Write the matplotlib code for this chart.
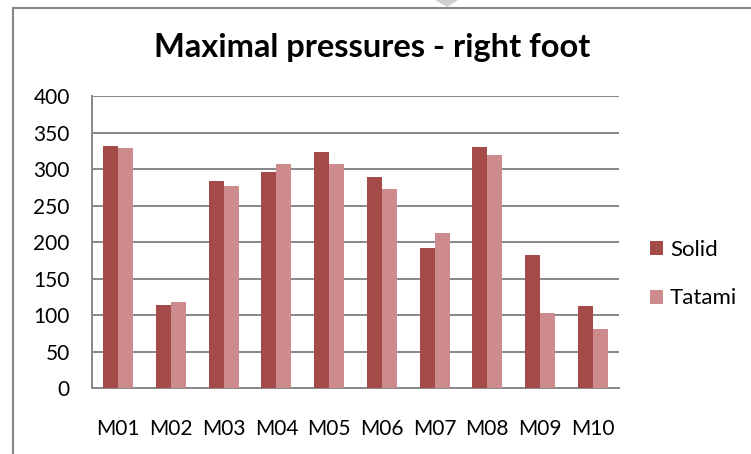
import matplotlib
matplotlib.use("Agg")
import matplotlib.pyplot as plt
from matplotlib.lines import Line2D
from matplotlib.patches import Polygon
import numpy as np

categories = ["M01", "M02", "M03", "M04", "M05", "M06", "M07", "M08", "M09", "M10"]
solid = [332, 114, 284, 296, 323, 289, 192, 330, 182, 113]
tatami = [329, 118, 277, 307, 307, 273, 213, 319, 103, 81]
series_names = ["Solid", "Tatami"]
y_ticks = [0, 50, 100, 150, 200, 250, 300, 350, 400]
title = "Maximal pressures - right foot"

W, H = 751, 454
plt.rcParams["font.family"] = ["Lato", "DejaVu Sans"]

fig = plt.figure(figsize=(W / 100, H / 100), dpi=100)
fig.patch.set_facecolor("white")

def fx(px):
    return px / W

def fy(py):
    return 1 - py / H

left, right, top, bottom = 92, 619, 96, 388.3
ax = fig.add_axes([fx(left), fy(bottom), fx(right) - fx(left), fy(top) - fy(bottom)])

grid_col = "#878787"
solid_col = "#A44B4A"
tatami_col = "#CD8B8D"

x = np.arange(len(categories))
w = 0.285
b1 = ax.bar(x - w / 2, solid, width=w, color=solid_col, label=series_names[0], zorder=3)
b2 = ax.bar(x + w / 2, tatami, width=w, color=tatami_col, label=series_names[1], zorder=3)

ax.set_xlim(-0.5, len(categories) - 0.5)
ax.set_ylim(0, 400)
ax.set_yticks(y_ticks)
ax.set_yticklabels([str(v) for v in y_ticks])
ax.set_xticks(x)
ax.set_xticklabels(categories)
ax.yaxis.grid(True, color=grid_col, linewidth=1.4, zorder=0)
ax.set_axisbelow(True)
for s in ["top", "right"]:
    ax.spines[s].set_visible(False)
for s in ["left", "bottom"]:
    ax.spines[s].set_color(grid_col)
    ax.spines[s].set_linewidth(1.4)
ax.tick_params(axis="both", length=0, labelsize=15, colors="black")
ax.tick_params(axis="y", pad=16)
ax.tick_params(axis="x", pad=22)

fig.text(fx(372), fy(57), title, ha="center", va="baseline",
         fontsize=23.5, fontweight="bold", color="black")

fig.legend(handles=[b1, b2], labels=series_names, loc="center left",
           bbox_to_anchor=(fx(641), fy(274)), frameon=False,
           fontsize=16, handlelength=0.6, handleheight=0.6,
           handletextpad=0.3, labelspacing=1.3, borderaxespad=0)

# chart area frame
fig.add_artist(Line2D([fx(12.7), 1.0], [fy(7.5), fy(7.5)], color=grid_col, linewidth=1.5))
fig.add_artist(Line2D([fx(12.7), fx(12.7)], [fy(7.5), 0.0], color=grid_col, linewidth=1.5))
fig.add_artist(Polygon([[fx(435), 1.0], [fx(458), 1.0], [fx(447), fy(7)]],
                       closed=True, facecolor="#cfcfcf", edgecolor="none"))

fig.savefig("out.png", dpi=100, facecolor="white")
